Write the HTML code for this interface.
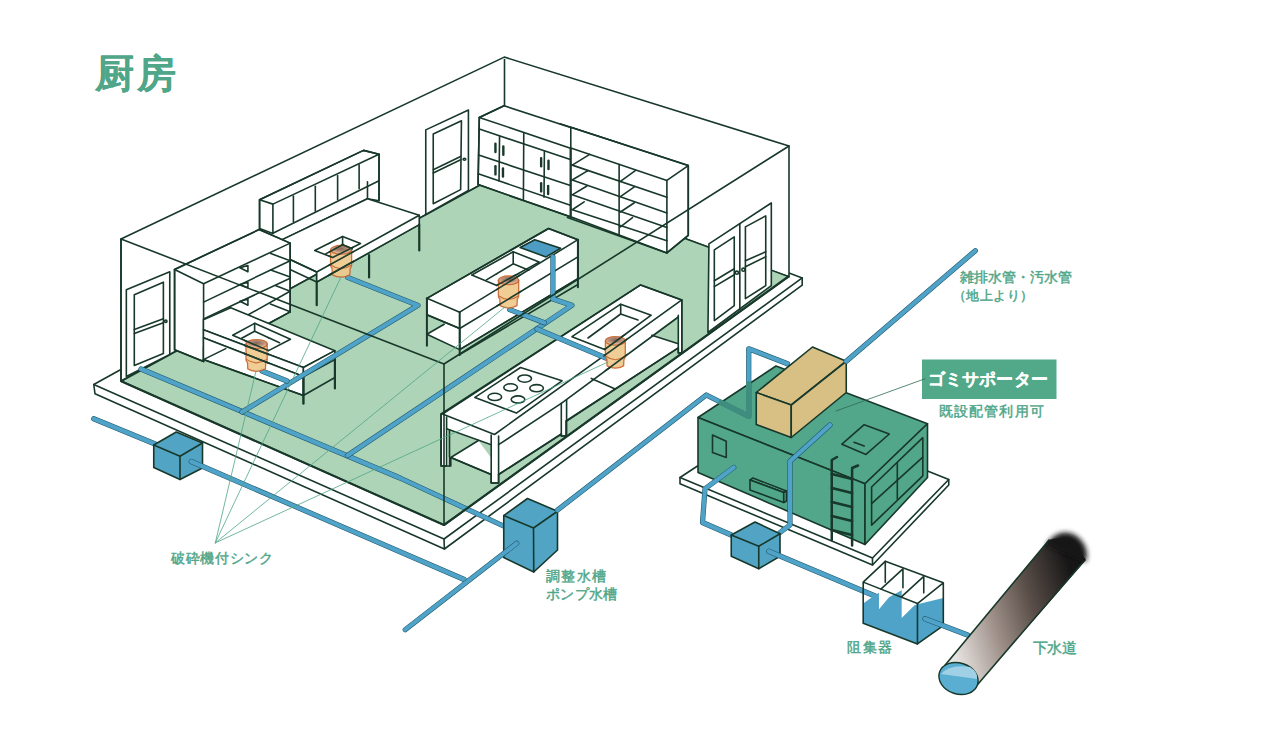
<!DOCTYPE html>
<html><head><meta charset="utf-8">
<style>
html,body{margin:0;padding:0;background:#fff;width:1280px;height:753px;overflow:hidden}
svg{display:block}
svg *{vector-effect:non-scaling-stroke}
.t{font-family:"Liberation Sans",sans-serif;fill:#4fa688;font-weight:normal}
</style></head><body>
<svg width="1280" height="753" viewBox="0 0 1280 753">
<g stroke="#17382a" stroke-width="1.6" stroke-linejoin="round" stroke-linecap="round" fill="none">
<polygon fill="#fff" points="120,370 93.75,384.5 95,393.75 444.4,549 802.2,285.2 802.2,277.9 789,273"/>
<polyline points="93.75,384.5 444,539 802.2,277.9"/>
<line x1="444" y1="539" x2="444.4" y2="549"/>
<polygon fill="#fff" points="121,239 504.3,57.1 789,146 789,277 504,172 121,381"/>
<polygon fill="#aed4b7" points="121.25,381.25 504,172 788.5,276.5 444,525"/>
<line x1="504.5" y1="59.5" x2="504.5" y2="172"/>
<line x1="121" y1="239" x2="121" y2="381"/>
<g transform="translate(110,230) scale(0.199203)"><polygon fill="#fff" points="82,735 82,300 300,210 300,625"/>
<polygon points="122,680 122,325 268,262 268,620"/>
<line x1="122" y1="500" x2="268" y2="445"/><line x1="122" y1="520" x2="268" y2="465"/>
<circle cx="280" cy="458" r="6"/></g>
<g transform="translate(410,100) scale(0.165975)">
<polygon fill="#fff" points="95,690 95,180 352,60 352,545"/>
<polygon points="140,625 140,205 310,125 305,540"/>
<line x1="140" y1="420" x2="305" y2="340"/><line x1="140" y1="440" x2="305" y2="360"/>
<ellipse cx="328" cy="357" rx="8" ry="6"/>
</g>
<g transform="translate(470,95) scale(0.179211)">
<polygon fill="#fff" points="45,500 52,125 190,60 837,270 837,753 560,680"/>
<polyline points="190,60 52,125 45,500 560,680"/>
<line x1="52" y1="125" x2="837" y2="390"/>
<line x1="52" y1="190" x2="560" y2="360"/>
<line x1="48" y1="335" x2="560" y2="505"/>
<line x1="46" y1="440" x2="560" y2="615"/>
<line x1="300" y1="215" x2="298" y2="585"/><line x1="560" y1="300" x2="560" y2="680"/>
<line x1="165" y1="230" x2="162" y2="480"/><line x1="415" y1="315" x2="413" y2="570"/>
<g stroke-width="2.4"><line x1="142" y1="272" x2="142" y2="318"/><line x1="186" y1="287" x2="186" y2="333"/>
<line x1="142" y1="397" x2="142" y2="443"/><line x1="184" y1="410" x2="184" y2="455"/>
<line x1="397" y1="352" x2="397" y2="398"/><line x1="438" y1="367" x2="438" y2="413"/>
<line x1="397" y1="492" x2="397" y2="538"/><line x1="436" y1="507" x2="436" y2="553"/></g>
</g>
<g transform="translate(560,120) scale(0.185908)">
<polygon fill="#fff" points="58,39 690,245 690,620 575,715 58,520"/>
<line x1="0" y1="20" x2="690" y2="245"/>
<line x1="58" y1="150" x2="575" y2="325"/>
<polyline points="575,325 690,245 690,620 575,715 575,325"/>
<line x1="40" y1="525" x2="575" y2="715"/>
<line x1="58" y1="155" x2="58" y2="520"/><line x1="318" y1="240" x2="318" y2="615"/>
<line x1="58" y1="240" x2="575" y2="415"/><line x1="58" y1="320" x2="575" y2="500"/>
<line x1="58" y1="400" x2="575" y2="578"/><line x1="58" y1="480" x2="575" y2="650"/>
<line x1="70" y1="240" x2="160" y2="185"/><line x1="70" y1="320" x2="150" y2="272"/><line x1="70" y1="400" x2="145" y2="355"/><line x1="70" y1="480" x2="130" y2="440"/>
<line x1="325" y1="330" x2="405" y2="272"/><line x1="325" y1="412" x2="400" y2="360"/><line x1="325" y1="495" x2="400" y2="445"/><line x1="325" y1="575" x2="390" y2="525"/>
</g>
<g transform="translate(690,190) scale(0.199322)">
<polygon fill="#fff" points="90,715 95,270 408,65 408,480"/>
<line x1="250" y1="170" x2="250" y2="600"/>
<polygon points="122,300 222,235 222,580 122,655"/>
<line x1="122" y1="455" x2="222" y2="395"/><line x1="122" y1="485" x2="222" y2="425"/>
<polygon points="278,185 380,130 380,480 278,545"/>
<line x1="278" y1="355" x2="380" y2="310"/><line x1="278" y1="385" x2="380" y2="335"/>
<circle cx="235" cy="415" r="8"/><circle cx="268" cy="400" r="8"/>
</g>
<g transform="translate(250,140) scale(0.199124)">
<polygon fill="#fff" points="48,300 570,52 648,72 648,305 590,295 115,523 48,445"/>
<polygon points="48,300 570,52 648,72 115,322"/>
<polyline points="48,300 48,445 115,470 115,322"/>
<line x1="648" y1="72" x2="648" y2="305"/>
<line x1="115" y1="468" x2="648" y2="205"/>
<line x1="590" y1="210" x2="590" y2="295"/>
<line x1="218" y1="282" x2="218" y2="412"/><line x1="328" y1="232" x2="328" y2="358"/>
<line x1="440" y1="178" x2="440" y2="300"/><line x1="548" y1="125" x2="548" y2="245"/>
<polygon fill="#fff" points="201,600 115,523 590,295 850,378 850,425 335,713 335,663"/>
<polygon fill="#fff" points="335,663 850,378 850,425 335,713"/>
<line x1="335" y1="713" x2="335" y2="830" stroke-width="2.2"/>
<line x1="850" y1="425" x2="850" y2="555" stroke-width="2.2"/>
<line x1="598" y1="578" x2="598" y2="690" stroke-width="2.2"/>
<polygon points="325,555 465,485 555,520 415,590"/>
<polyline points="380,572 465,526 513,546"/><line x1="465" y1="485" x2="465" y2="526"/>
<line x1="201" y1="600" x2="335" y2="663"/><line x1="201" y1="650" x2="335" y2="713"/>
</g>
<g transform="translate(420,225) scale(0.172592)">
<polygon fill="#fff" stroke="none" points="40,633 745,223 915,311 230,722"/>
<polygon fill="#fff" points="40,425 745,20 915,85 915,311 230,722 230,600 40,520"/>
<polygon points="40,425 745,20 915,85 230,505"/>
<polyline points="40,520 230,600 915,185"/>
<line x1="230" y1="505" x2="230" y2="753" stroke-width="2"/>
<line x1="40" y1="425" x2="40" y2="700" stroke-width="2"/>
<line x1="915" y1="85" x2="915" y2="360" stroke-width="2"/>
<polyline points="140,575 40,633 230,722 915,311"/>
<line x1="230" y1="750" x2="915" y2="345"/>
<polygon points="300,290 540,155 690,215 445,350"/>
<polyline points="385,318 540,225 630,262"/><line x1="540" y1="155" x2="540" y2="225"/>
<polygon fill="#4d9cc4" points="580,130 665,85 815,135 730,185"/>
</g>

<polygon fill="#fff" points="441,414 640.6,284.9 681.8,299.9 681.8,353 678.3,353 678.3,347.8 566,421 566,436 561.3,436 561.3,434 498.6,474.5 498.6,483 491.2,483 491.2,474.5 450.8,457.5 450.8,466 441,466"/>
<polygon fill="#aed4b7" stroke="none" points="651.8,335.2 678.3,315.9 678.3,343.8"/>
<polygon fill="#aed4b7" stroke="none" points="448,430 491.2,445.5 491.2,458 478.4,440.5 450.8,457 448,457"/>
<polygon points="442.5,414 640.6,284.9 681.8,299.9 494.5,434.5"/>
<polyline points="446.6,428.8 491.2,444.7"/>
<polyline points="498.6,444.7 561.3,403.3 678.3,317"/>
<polyline points="441.2,414 441.2,466 446.6,466 446.6,417"/>
<line x1="449.5" y1="430" x2="449.5" y2="466"/>
<polyline points="491.2,435 491.2,483 498.6,483 498.6,436"/>
<polyline points="498.6,474.5 561.3,434.1 561.3,436 566.6,436 566.6,400"/>
<line x1="561.3" y1="403" x2="561.3" y2="434"/>
<polyline points="450.8,457.5 491.2,474.5"/><line x1="450.8" y1="457.5" x2="478.4" y2="440.5"/>
<polyline points="566.6,421 678.3,347.8"/>
<polyline points="591.3,378.4 615.2,389"/><line x1="651.8" y1="335.2" x2="678.3" y2="343.8"/>
<polyline points="678.3,315.3 678.3,353 681.8,353 681.8,299.9"/>
<polygon points="474.9,397.4 520.5,367.5 562,380.8 516.4,413.1"/>
<ellipse cx="494.8" cy="396.9" rx="6.8" ry="3.6"/><ellipse cx="510.6" cy="387.4" rx="6.8" ry="3.6"/><ellipse cx="524.7" cy="378.6" rx="6.8" ry="3.6"/>
<ellipse cx="518" cy="399.5" rx="6.8" ry="3.6"/><ellipse cx="536.6" cy="388.2" rx="6.8" ry="3.6"/>
<polygon points="572,336.7 620.7,304.2 651.2,315.2 604.6,349.5"/>
<polyline points="588,338 620.7,314 638,320"/><line x1="620.7" y1="304.2" x2="620.7" y2="314"/>

<g transform="translate(165,220) scale(0.159464)">
<polygon fill="#fff" points="60,310 590,60 785,145 785,576 650,649 242,800 242,888 60,813"/>
<polygon points="60,310 590,60 785,145 242,400"/>
<polyline points="60,310 60,813 242,888 242,400"/>
<line x1="785" y1="145" x2="785" y2="576"/>
<line x1="242" y1="515" x2="785" y2="255"/>
<line x1="242" y1="620" x2="785" y2="365"/>
<line x1="663" y1="210" x2="785" y2="255"/><line x1="663" y1="314" x2="785" y2="357"/>
<line x1="696" y1="412" x2="785" y2="447"/><line x1="661" y1="527" x2="785" y2="576"/>
<line x1="514" y1="599" x2="784" y2="447"/><line x1="404" y1="552" x2="514" y2="599"/>
<polyline points="470,300 520,285 520,325 470,300"/><polyline points="470,405 520,390 520,425 470,405"/><polyline points="470,510 520,495 520,535 470,510"/>
<line x1="650" y1="649" x2="785" y2="576"/>
</g>
<g transform="translate(160,260) scale(0.199203)">
<polygon fill="#fff" points="218,300 355,240 878,455 720,540 218,350"/>
<polygon fill="#fff" points="218,350 720,540 720,585 218,390"/>
<polygon fill="#fff" points="720,540 878,455 878,500 720,585"/>
<polygon fill="#fff" points="218,390 218,500 720,680 720,585"/>
<polyline points="218,500 720,680 878,590"/>
<line x1="330" y1="445" x2="218" y2="500"/>
<line x1="720" y1="585" x2="720" y2="720" stroke-width="2.4"/>
<line x1="878" y1="500" x2="878" y2="645" stroke-width="2.2"/>
<polygon points="365,378 475,318 655,398 545,455"/>
<polyline points="410,393 475,358 600,415"/><line x1="475" y1="318" x2="475" y2="358"/>
</g>
<polyline points="141,369 400,478 503.5,526" stroke="#22596d" stroke-width="5.199999999999999" stroke-linejoin="round" stroke-linecap="round"/><polyline points="141,369 400,478 503.5,526" stroke="#4fa3c8" stroke-width="4.1" stroke-linejoin="round" stroke-linecap="round"/><polyline points="242,412 418,305.3 347.6,277.4" stroke="#22596d" stroke-width="5.199999999999999" stroke-linejoin="round" stroke-linecap="round"/><polyline points="242,412 418,305.3 347.6,277.4" stroke="#4fa3c8" stroke-width="4.1" stroke-linejoin="round" stroke-linecap="round"/><polyline points="262,371 287,381" stroke="#22596d" stroke-width="5.199999999999999" stroke-linejoin="round" stroke-linecap="round"/><polyline points="262,371 287,381" stroke="#4fa3c8" stroke-width="4.1" stroke-linejoin="round" stroke-linecap="round"/><polyline points="347.5,455.5 571.9,305.3 552.9,299 552.9,256.9" stroke="#22596d" stroke-width="5.199999999999999" stroke-linejoin="round" stroke-linecap="round"/><polyline points="347.5,455.5 571.9,305.3 552.9,299 552.9,256.9" stroke="#4fa3c8" stroke-width="4.1" stroke-linejoin="round" stroke-linecap="round"/><polyline points="509.7,309.6 544.3,322.7" stroke="#22596d" stroke-width="5.199999999999999" stroke-linejoin="round" stroke-linecap="round"/><polyline points="509.7,309.6 544.3,322.7" stroke="#4fa3c8" stroke-width="4.1" stroke-linejoin="round" stroke-linecap="round"/><polyline points="537,329 606,358" stroke="#22596d" stroke-width="5.199999999999999" stroke-linejoin="round" stroke-linecap="round"/><polyline points="537,329 606,358" stroke="#4fa3c8" stroke-width="4.1" stroke-linejoin="round" stroke-linecap="round"/>
<defs><radialGradient id="gtop" cx="0.5" cy="0.35" r="0.6"><stop offset="0" stop-color="#7d5e4c"/><stop offset="0.6" stop-color="#b8907a"/><stop offset="1" stop-color="#eccfb0"/></radialGradient><linearGradient id="sewer" gradientUnits="userSpaceOnUse" x1="950" y1="640" x2="1080" y2="600"><stop offset="0" stop-color="#e8e4e1"/><stop offset="0.35" stop-color="#9d8f88"/><stop offset="0.65" stop-color="#5a4e49"/><stop offset="1" stop-color="#161616"/></linearGradient><filter id="blur1" x="-50%" y="-50%" width="200%" height="200%"><feGaussianBlur stdDeviation="2.5"/></filter></defs>
<path d="M246,343.993 L246,359.416 Q246,361.006 247.484,362.596 L247.7808,368.9242 Q256.6,373.6465 265.4192,368.9242 L265.716,362.596 Q267.2,361.006 267.2,359.416 L267.2,343.993 Z" fill="#f0c98e" stroke="#c8652e" stroke-width="1.3" opacity="0.92"/><path d="M246.5,359.416 Q256.6,366.2848 266.7,359.416" stroke="#c8652e" stroke-width="1.1" opacity="0.92"/><ellipse cx="256.6" cy="343.993" rx="10.599999999999994" ry="4.293000000000002" fill="url(#gtop)" stroke="#c8652e" stroke-width="1.3" opacity="0.92"/><path d="M330.6,249.8065 L330.6,265.27799999999996 Q330.6,266.87299999999993 332.07000000000005,268.46799999999996 L332.36400000000003,274.8161 Q341.1,279.55325 349.836,274.8161 L350.13,268.46799999999996 Q351.6,266.87299999999993 351.6,265.27799999999996 L351.6,249.8065 Z" fill="#f0c98e" stroke="#c8652e" stroke-width="1.3" opacity="0.92"/><path d="M331.1,265.27799999999996 Q341.1,272.16839999999996 351.1,265.27799999999996" stroke="#c8652e" stroke-width="1.1" opacity="0.92"/><ellipse cx="341.1" cy="249.8065" rx="10.5" ry="4.306499999999997" fill="url(#gtop)" stroke="#c8652e" stroke-width="1.3" opacity="0.92"/><path d="M498.4,280.3605 L498.4,296.026 Q498.4,297.641 499.82099999999997,299.25600000000003 L500.10519999999997,305.6837 Q508.55,310.48025 516.9948,305.6837 L517.279,299.25600000000003 Q518.7,297.641 518.7,296.026 L518.7,280.3605 Z" fill="#f0c98e" stroke="#c8652e" stroke-width="1.3" opacity="0.92"/><path d="M498.9,296.026 Q508.55,303.00280000000004 518.2,296.026" stroke="#c8652e" stroke-width="1.1" opacity="0.92"/><ellipse cx="508.55" cy="280.3605" rx="10.150000000000034" ry="4.360500000000002" fill="url(#gtop)" stroke="#c8652e" stroke-width="1.3" opacity="0.92"/><path d="M605.4,340.89300000000003 L605.4,356.316 Q605.4,357.90599999999995 606.793,359.496 L607.0716,365.82419999999996 Q615.3499999999999,370.5465 623.6283999999999,365.82419999999996 L623.9069999999999,359.496 Q625.3,357.90599999999995 625.3,356.316 L625.3,340.89300000000003 Z" fill="#f0c98e" stroke="#c8652e" stroke-width="1.3" opacity="0.92"/><path d="M605.9,356.316 Q615.3499999999999,363.18479999999994 624.8,356.316" stroke="#c8652e" stroke-width="1.1" opacity="0.92"/><ellipse cx="615.3499999999999" cy="340.89300000000003" rx="9.949999999999989" ry="4.292999999999994" fill="url(#gtop)" stroke="#c8652e" stroke-width="1.3" opacity="0.92"/>
<clipPath id="gclip"><rect x="244" y="337.7" width="25.19999999999999" height="35.80000000000001"/><rect x="328.6" y="243.5" width="25.0" height="35.89999999999998"/><rect x="496.4" y="274" width="24.300000000000068" height="36.30000000000001"/><rect x="603.4" y="334.6" width="23.899999999999977" height="35.799999999999955"/></clipPath>
<g clip-path="url(#gclip)" opacity="0.95"><g transform="translate(250,140) scale(0.199124)">
<polygon fill="none" points="48,300 570,52 648,72 648,305 590,295 115,523 48,445"/>
<polygon points="48,300 570,52 648,72 115,322"/>
<polyline points="48,300 48,445 115,470 115,322"/>
<line x1="648" y1="72" x2="648" y2="305"/>
<line x1="115" y1="468" x2="648" y2="205"/>
<line x1="590" y1="210" x2="590" y2="295"/>
<line x1="218" y1="282" x2="218" y2="412"/><line x1="328" y1="232" x2="328" y2="358"/>
<line x1="440" y1="178" x2="440" y2="300"/><line x1="548" y1="125" x2="548" y2="245"/>
<polygon fill="none" points="201,600 115,523 590,295 850,378 850,425 335,713 335,663"/>
<polygon fill="none" points="335,663 850,378 850,425 335,713"/>
<line x1="335" y1="713" x2="335" y2="830" stroke-width="2.2"/>
<line x1="850" y1="425" x2="850" y2="555" stroke-width="2.2"/>
<line x1="598" y1="578" x2="598" y2="690" stroke-width="2.2"/>
<polygon points="325,555 465,485 555,520 415,590"/>
<polyline points="380,572 465,526 513,546"/><line x1="465" y1="485" x2="465" y2="526"/>
<line x1="201" y1="600" x2="335" y2="663"/><line x1="201" y1="650" x2="335" y2="713"/>
</g><g transform="translate(420,225) scale(0.172592)">
<polygon fill="none" stroke="none" points="40,633 745,223 915,311 230,722"/>
<polygon fill="none" points="40,425 745,20 915,85 915,311 230,722 230,600 40,520"/>
<polygon points="40,425 745,20 915,85 230,505"/>
<polyline points="40,520 230,600 915,185"/>
<line x1="230" y1="505" x2="230" y2="753" stroke-width="2"/>
<line x1="40" y1="425" x2="40" y2="700" stroke-width="2"/>
<line x1="915" y1="85" x2="915" y2="360" stroke-width="2"/>
<polyline points="140,575 40,633 230,722 915,311"/>
<line x1="230" y1="750" x2="915" y2="345"/>
<polygon points="300,290 540,155 690,215 445,350"/>
<polyline points="385,318 540,225 630,262"/><line x1="540" y1="155" x2="540" y2="225"/>
<polygon fill="none" points="580,130 665,85 815,135 730,185"/>
</g>
<polygon fill="none" points="441,414 640.6,284.9 681.8,299.9 681.8,353 678.3,353 678.3,347.8 566,421 566,436 561.3,436 561.3,434 498.6,474.5 498.6,483 491.2,483 491.2,474.5 450.8,457.5 450.8,466 441,466"/>
<polygon fill="none" stroke="none" points="651.8,335.2 678.3,315.9 678.3,343.8"/>
<polygon fill="none" stroke="none" points="448,430 491.2,445.5 491.2,458 478.4,440.5 450.8,457 448,457"/>
<polygon points="442.5,414 640.6,284.9 681.8,299.9 494.5,434.5"/>
<polyline points="446.6,428.8 491.2,444.7"/>
<polyline points="498.6,444.7 561.3,403.3 678.3,317"/>
<polyline points="441.2,414 441.2,466 446.6,466 446.6,417"/>
<line x1="449.5" y1="430" x2="449.5" y2="466"/>
<polyline points="491.2,435 491.2,483 498.6,483 498.6,436"/>
<polyline points="498.6,474.5 561.3,434.1 561.3,436 566.6,436 566.6,400"/>
<line x1="561.3" y1="403" x2="561.3" y2="434"/>
<polyline points="450.8,457.5 491.2,474.5"/><line x1="450.8" y1="457.5" x2="478.4" y2="440.5"/>
<polyline points="566.6,421 678.3,347.8"/>
<polyline points="591.3,378.4 615.2,389"/><line x1="651.8" y1="335.2" x2="678.3" y2="343.8"/>
<polyline points="678.3,315.3 678.3,353 681.8,353 681.8,299.9"/>
<polygon points="474.9,397.4 520.5,367.5 562,380.8 516.4,413.1"/>
<ellipse cx="494.8" cy="396.9" rx="6.8" ry="3.6"/><ellipse cx="510.6" cy="387.4" rx="6.8" ry="3.6"/><ellipse cx="524.7" cy="378.6" rx="6.8" ry="3.6"/>
<ellipse cx="518" cy="399.5" rx="6.8" ry="3.6"/><ellipse cx="536.6" cy="388.2" rx="6.8" ry="3.6"/>
<polygon points="572,336.7 620.7,304.2 651.2,315.2 604.6,349.5"/>
<polyline points="588,338 620.7,314 638,320"/><line x1="620.7" y1="304.2" x2="620.7" y2="314"/>
<g transform="translate(160,260) scale(0.199203)">
<polygon fill="none" points="218,300 355,240 878,455 720,540 218,350"/>
<polygon fill="none" points="218,350 720,540 720,585 218,390"/>
<polygon fill="none" points="720,540 878,455 878,500 720,585"/>
<polygon fill="none" points="218,390 218,500 720,680 720,585"/>
<polyline points="218,500 720,680 878,590"/>
<line x1="330" y1="445" x2="218" y2="500"/>
<line x1="720" y1="585" x2="720" y2="720" stroke-width="2.4"/>
<line x1="878" y1="500" x2="878" y2="645" stroke-width="2.2"/>
<polygon points="365,378 475,318 655,398 545,455"/>
<polyline points="410,393 475,358 600,415"/><line x1="475" y1="318" x2="475" y2="358"/>
</g></g>
<polyline points="121,239 444,364 789,146"/>
<line x1="444" y1="364" x2="444" y2="525"/>
<polyline stroke-width="2.2" points="121.25,381.25 444,525 788.5,276.5"/>
<polyline points="93.75,418.75 160,446" stroke="#22596d" stroke-width="5.199999999999999" stroke-linejoin="round" stroke-linecap="round"/><polyline points="93.75,418.75 160,446" stroke="#4fa3c8" stroke-width="4.1" stroke-linejoin="round" stroke-linecap="round"/>
<g fill="#52a4c4"><polygon points="153.75,445 176.25,432 202.5,443 202.5,468 180,479.5 153.75,467.5"/><polyline points="153.75,445 180,456.25 202.5,443"/><line x1="180" y1="456.25" x2="180" y2="479.5"/></g>
<polyline points="191.25,461.5 464.2,579.5" stroke="#22596d" stroke-width="5.199999999999999" stroke-linejoin="round" stroke-linecap="round"/><polyline points="191.25,461.5 464.2,579.5" stroke="#4fa3c8" stroke-width="4.1" stroke-linejoin="round" stroke-linecap="round"/>
<g fill="#52a4c4"><polygon points="503.75,515.6 527.5,498.5 557.5,511.25 557.5,550 533.75,572 503.75,557.5"/><polyline points="503.75,515.6 533.5,528 557.5,511.25"/><line x1="533.5" y1="528" x2="533.75" y2="572"/></g>
<polyline points="405.2,629.7 516.7,543.3" stroke="#22596d" stroke-width="5.199999999999999" stroke-linejoin="round" stroke-linecap="round"/><polyline points="405.2,629.7 516.7,543.3" stroke="#4fa3c8" stroke-width="4.1" stroke-linejoin="round" stroke-linecap="round"/>
<polygon fill="#fff" points="680,477.5 697.5,466 927.5,471 948.75,479.5 948.75,485 872.5,565 680,483.75"/><polyline points="680,477.5 872.5,558 948.75,479.5"/><line x1="872.5" y1="558" x2="872.5" y2="565"/>
<g fill="#52a68a"><polygon points="698,417.5 776,366 927.5,423.75 865,483.75"/><polygon points="698,417.5 865,483.75 865,544.5 698,472.5"/><polygon points="865,483.75 927.5,423.75 927.5,477.5 865,544.5"/></g>
<polygon points="712.5,435 726.25,441.25 726.25,457.5 712.5,452.5"/><polygon fill="#4fa688" points="750,480 753,478 786.5,491 783.75,492.5"/><polygon fill="#4fa688" points="750,480 783.75,492.5 783.75,502.5 750,490"/><polygon fill="#4fa688" points="783.75,492.5 786.5,491 786.5,501 783.75,502.5"/><polygon points="841.9,444.2 864.2,424.7 889.3,434 866,454.4"/><line x1="854" y1="442.3" x2="864.2" y2="446"/><polygon points="871.6,487 922.8,437.7 922.8,475.8 871.6,525.1"/><line x1="897.3" y1="462.8" x2="897.3" y2="499.1"/><line x1="871.6" y1="503.7" x2="922.8" y2="457.2"/>
<g stroke-width="2.5"><polyline points="837,457 831.75,460 831.75,540"/><polyline points="858,465.5 852.1,468 852.1,545.6"/><line x1="831.75" y1="474" x2="852.1" y2="479"/><line x1="831.75" y1="488" x2="852.1" y2="493"/><line x1="831.75" y1="502" x2="852.1" y2="507"/><line x1="831.75" y1="516" x2="852.1" y2="521"/><line x1="831.75" y1="530" x2="852.1" y2="535"/></g>
<polyline points="557.5,510 706.25,395 748.75,416.25 748.75,348.75 787.5,363.75" stroke="#22596d" stroke-width="5.199999999999999" stroke-linejoin="round" stroke-linecap="round"/><polyline points="557.5,510 706.25,395 748.75,416.25 748.75,348.75 787.5,363.75" stroke="#4fa3c8" stroke-width="4.1" stroke-linejoin="round" stroke-linecap="round"/>
<polyline points="721,402.4 748.75,416.25 748.75,384" stroke="#3f8d7f" stroke-width="5.5" stroke-linejoin="round"/>
<polyline points="830,425 790,461.25 790,525 780,532.5" stroke="#22596d" stroke-width="5.199999999999999" stroke-linejoin="round" stroke-linecap="round"/><polyline points="830,425 790,461.25 790,525 780,532.5" stroke="#4fa3c8" stroke-width="4.1" stroke-linejoin="round" stroke-linecap="round"/>
<polyline points="733.75,467.5 705,488.75 702.5,522.5 731.25,535" stroke="#22596d" stroke-width="5.199999999999999" stroke-linejoin="round" stroke-linecap="round"/><polyline points="733.75,467.5 705,488.75 702.5,522.5 731.25,535" stroke="#4fa3c8" stroke-width="4.1" stroke-linejoin="round" stroke-linecap="round"/>
<g fill="#d8c085"><polygon points="756.25,392.5 812.5,347 846.25,361.25 791.25,405"/><polygon points="756.25,392.5 791.25,405 791.25,437.5 756.25,424.5"/><polygon points="791.25,405 846.25,361.25 846.25,392.5 791.25,437.5"/></g>
<polyline points="975.3,250.75 846.25,361.25" stroke="#22596d" stroke-width="5.199999999999999" stroke-linejoin="round" stroke-linecap="round"/><polyline points="975.3,250.75 846.25,361.25" stroke="#4fa3c8" stroke-width="4.1" stroke-linejoin="round" stroke-linecap="round"/>
<g fill="#52a4c4"><polygon points="731.25,535 755,522 780,533.75 780,556.25 758.75,568.75 731.25,556.25"/><polyline points="731.25,535 758.75,546.25 780,533.75"/><line x1="758.75" y1="546.25" x2="758.75" y2="568.75"/></g>
<polyline points="768.75,551.25 875,596" stroke="#22596d" stroke-width="5.199999999999999" stroke-linejoin="round" stroke-linecap="round"/><polyline points="768.75,551.25 875,596" stroke="#4fa3c8" stroke-width="4.1" stroke-linejoin="round" stroke-linecap="round"/>
<g transform="translate(855,555) scale(0.126167)">
<polygon fill="#4fa3c8" stroke="none" points="65,385 120,345 190,300 190,430 270,335 370,280 370,500 470,400 495,390 700,340 700,560 495,705 65,540"/>
<polyline points="65,215 240,50 700,220 495,385 65,215 65,540 495,705 700,560 700,220"/>
<line x1="495" y1="385" x2="495" y2="705"/>
<line x1="240" y1="50" x2="240" y2="215"/>
<polyline points="205,270 380,110 380,260"/>
<polyline points="370,330 545,170 545,300"/>
</g>
<polyline points="925,618.75 967.5,635" stroke="#22596d" stroke-width="5.199999999999999" stroke-linejoin="round" stroke-linecap="round"/><polyline points="925,618.75 967.5,635" stroke="#4fa3c8" stroke-width="4.1" stroke-linejoin="round" stroke-linecap="round"/>
<path d="M977,685.2 L945,665.3 L1049,540 Q1070,532 1086,560 Z" fill="url(#sewer)" stroke="none"/><polyline points="945,665.3 1049,540"/><polyline points="977,685.2 1083,562"/><path d="M1046,545 Q1058,527 1075,535 Q1090,545 1086,562 Z" fill="#151515" filter="url(#blur1)" stroke="none"/><ellipse cx="958.5" cy="678.5" rx="20" ry="15.5" transform="rotate(18 958.5 678.5)" fill="#5aaed2" stroke="#17382a" stroke-width="1.4"/><path d="M941,674 Q950,664 970,667 Q978,672 977,679 Z" fill="#9fd0e6" stroke="none"/>
<text class="t" x="170.83" y="562.68" font-size="14.24" textLength="102.12" lengthAdjust="spacing" style="fill:#4fa688;font-weight:normal" stroke="#4fa688" stroke-width="0.45">破砕機付シンク</text>
<text class="t" x="546.16" y="581.25" font-size="14.12" textLength="59.56" lengthAdjust="spacing" style="fill:#4fa688;font-weight:normal" stroke="#4fa688" stroke-width="0.45">調整水槽</text>
<text class="t" x="546.16" y="599.37" font-size="14.30" textLength="70.81" lengthAdjust="spacing" style="fill:#4fa688;font-weight:normal" stroke="#4fa688" stroke-width="0.45">ポンプ水槽</text>
<text class="t" x="847.32" y="652.38" font-size="14.43" textLength="44.51" lengthAdjust="spacing" style="fill:#4fa688;font-weight:normal" stroke="#4fa688" stroke-width="0.45">阻集器</text>
<text class="t" x="1032.70" y="652.66" font-size="14.95" textLength="44.25" lengthAdjust="spacing" style="fill:#4fa688;font-weight:normal" stroke="#4fa688" stroke-width="0.45">下水道</text>
<text class="t" x="959.59" y="282.05" font-size="14.29" textLength="111.93" lengthAdjust="spacing" style="fill:#4fa688;font-weight:normal" stroke="#4fa688" stroke-width="0.45">雑排水管・汚水管</text>
<text class="t" x="952.73" y="299.83" font-size="13.12" textLength="80.54" lengthAdjust="spacing" style="fill:#4fa688;font-weight:normal" stroke="#4fa688" stroke-width="0.45">（地上より）</text>
<rect x="922" y="359.5" width="134.5" height="39.5" fill="#52a98a" stroke="none"/>
<text class="t" x="927.91" y="384.76" font-size="16.61" textLength="119.86" lengthAdjust="spacing" style="fill:#fff;font-weight:bold" stroke="#fff" stroke-width="0.2">ゴミサポーター</text>
<text class="t" x="938.69" y="416.47" font-size="14.13" textLength="105.13" lengthAdjust="spacing" style="fill:#4fa688;font-weight:normal" stroke="#4fa688" stroke-width="0.45">既設配管利用可</text>
<text class="t" x="95.30" y="87.45" font-size="39.05" textLength="80.97" lengthAdjust="spacing" style="fill:#4fa688;font-weight:bold" stroke="#4fa688" stroke-width="0.15">厨房</text>
<line x1="836" y1="411" x2="925" y2="378.75" stroke="#2f6b52" stroke-width="0.8"/>
<g stroke="#4fa688" stroke-width="0.8"><line x1="215.3" y1="542.9" x2="256" y2="371"/><line x1="215.3" y1="542.9" x2="341" y2="277"/><line x1="215.3" y1="542.9" x2="505" y2="307"/><line x1="215.3" y1="542.9" x2="608" y2="362"/></g></g>
</svg>
</body></html>
